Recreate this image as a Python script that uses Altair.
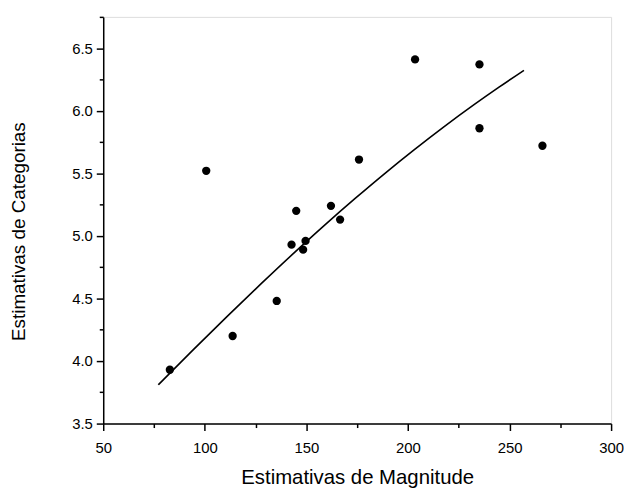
import altair as alt
import pandas as pd

# Scatter data (Estimativas de Magnitude vs Estimativas de Categorias)
mag = [82.8, 100.7, 113.7, 135.4, 142.7, 145.0, 148.4, 149.6, 162.1, 166.6, 175.9, 203.5, 235.2, 235.2, 266.2]
cat = [3.93, 5.52, 4.20, 4.48, 4.93, 5.20, 4.89, 4.96, 5.24, 5.13, 5.61, 6.41, 6.37, 5.86, 5.72]

# Fitted curve
fit_x = [77.1, 94.0, 110.9, 127.5, 144.2, 159.0, 174.3, 189.0, 203.0, 218.0, 232.7, 245.0, 257.1]
fit_y = [3.81, 4.085, 4.355, 4.614, 4.868, 5.086, 5.303, 5.504, 5.687, 5.875, 6.050, 6.190, 6.323]

x_major = [50, 100, 150, 200, 250, 300]
x_minor = [75, 125, 175, 225, 275]
y_major = [3.5, 4.0, 4.5, 5.0, 5.5, 6.0, 6.5]
y_minor = [3.75, 4.25, 4.75, 5.25, 5.75, 6.25, 6.75]

pts = pd.DataFrame({"mag": mag, "cat": cat})
fit = pd.DataFrame({"mag": fit_x, "cat": fit_y})

FONT = "Liberation Sans"
xs = alt.Scale(domain=[50, 300], nice=False, zero=False)
ys = alt.Scale(domain=[3.5, 6.75], nice=False, zero=False)

common = dict(grid=False, domainColor="black", tickColor="black", labelColor="black",
              titleColor="black", labelFont=FONT, titleFont=FONT, titleFontWeight="normal",
              labelFlush=False, labelOverlap=False)

points = alt.Chart(pts).mark_circle(size=70, color="black", opacity=1).encode(
    x=alt.X("mag:Q", scale=xs, axis=alt.Axis(
        values=x_major, tickSize=7, tickWidth=1.5, domainWidth=1.5, labelFontSize=15,
        labelPadding=10, title="Estimativas de Magnitude", titleFontSize=20.5,
        titleY=60, titleBaseline="alphabetic", orient="bottom", **common)),
    y=alt.Y("cat:Q", scale=ys, axis=alt.Axis(
        values=y_major, format=".1f", tickSize=7, tickWidth=1.5, domainWidth=1.5,
        labelFontSize=15, labelPadding=4, title="Estimativas de Categorias",
        titleFontSize=19, titleX=-79, titleY=216, titleBaseline="alphabetic",
        titleAngle=-90, orient="left", **common)),
)

line = alt.Chart(fit).mark_line(color="black", strokeWidth=1.6, interpolate="monotone").encode(
    x=alt.X("mag:Q", scale=xs, axis=alt.Axis(
        values=x_minor, tickSize=4, tickWidth=1.5, domain=False, labels=False,
        title="", orient="bottom", grid=False, tickColor="black")),
    y=alt.Y("cat:Q", scale=ys, axis=alt.Axis(
        values=y_minor, tickSize=4, tickWidth=1.5, domain=False, labels=False,
        title="", orient="left", grid=False, tickColor="black")),
    order="mag:Q",
)

chart = alt.layer(points, line).resolve_axis(x="independent", y="independent").properties(
    width=512, height=410,
    autosize=alt.AutoSizeParams(type="none"),
    padding={"left": 96, "top": 7, "right": 13, "bottom": 64},
).configure_view(stroke=None).configure(background="white")

chart.save("out.html", embed_options={"renderer": "svg", "actions": False})
